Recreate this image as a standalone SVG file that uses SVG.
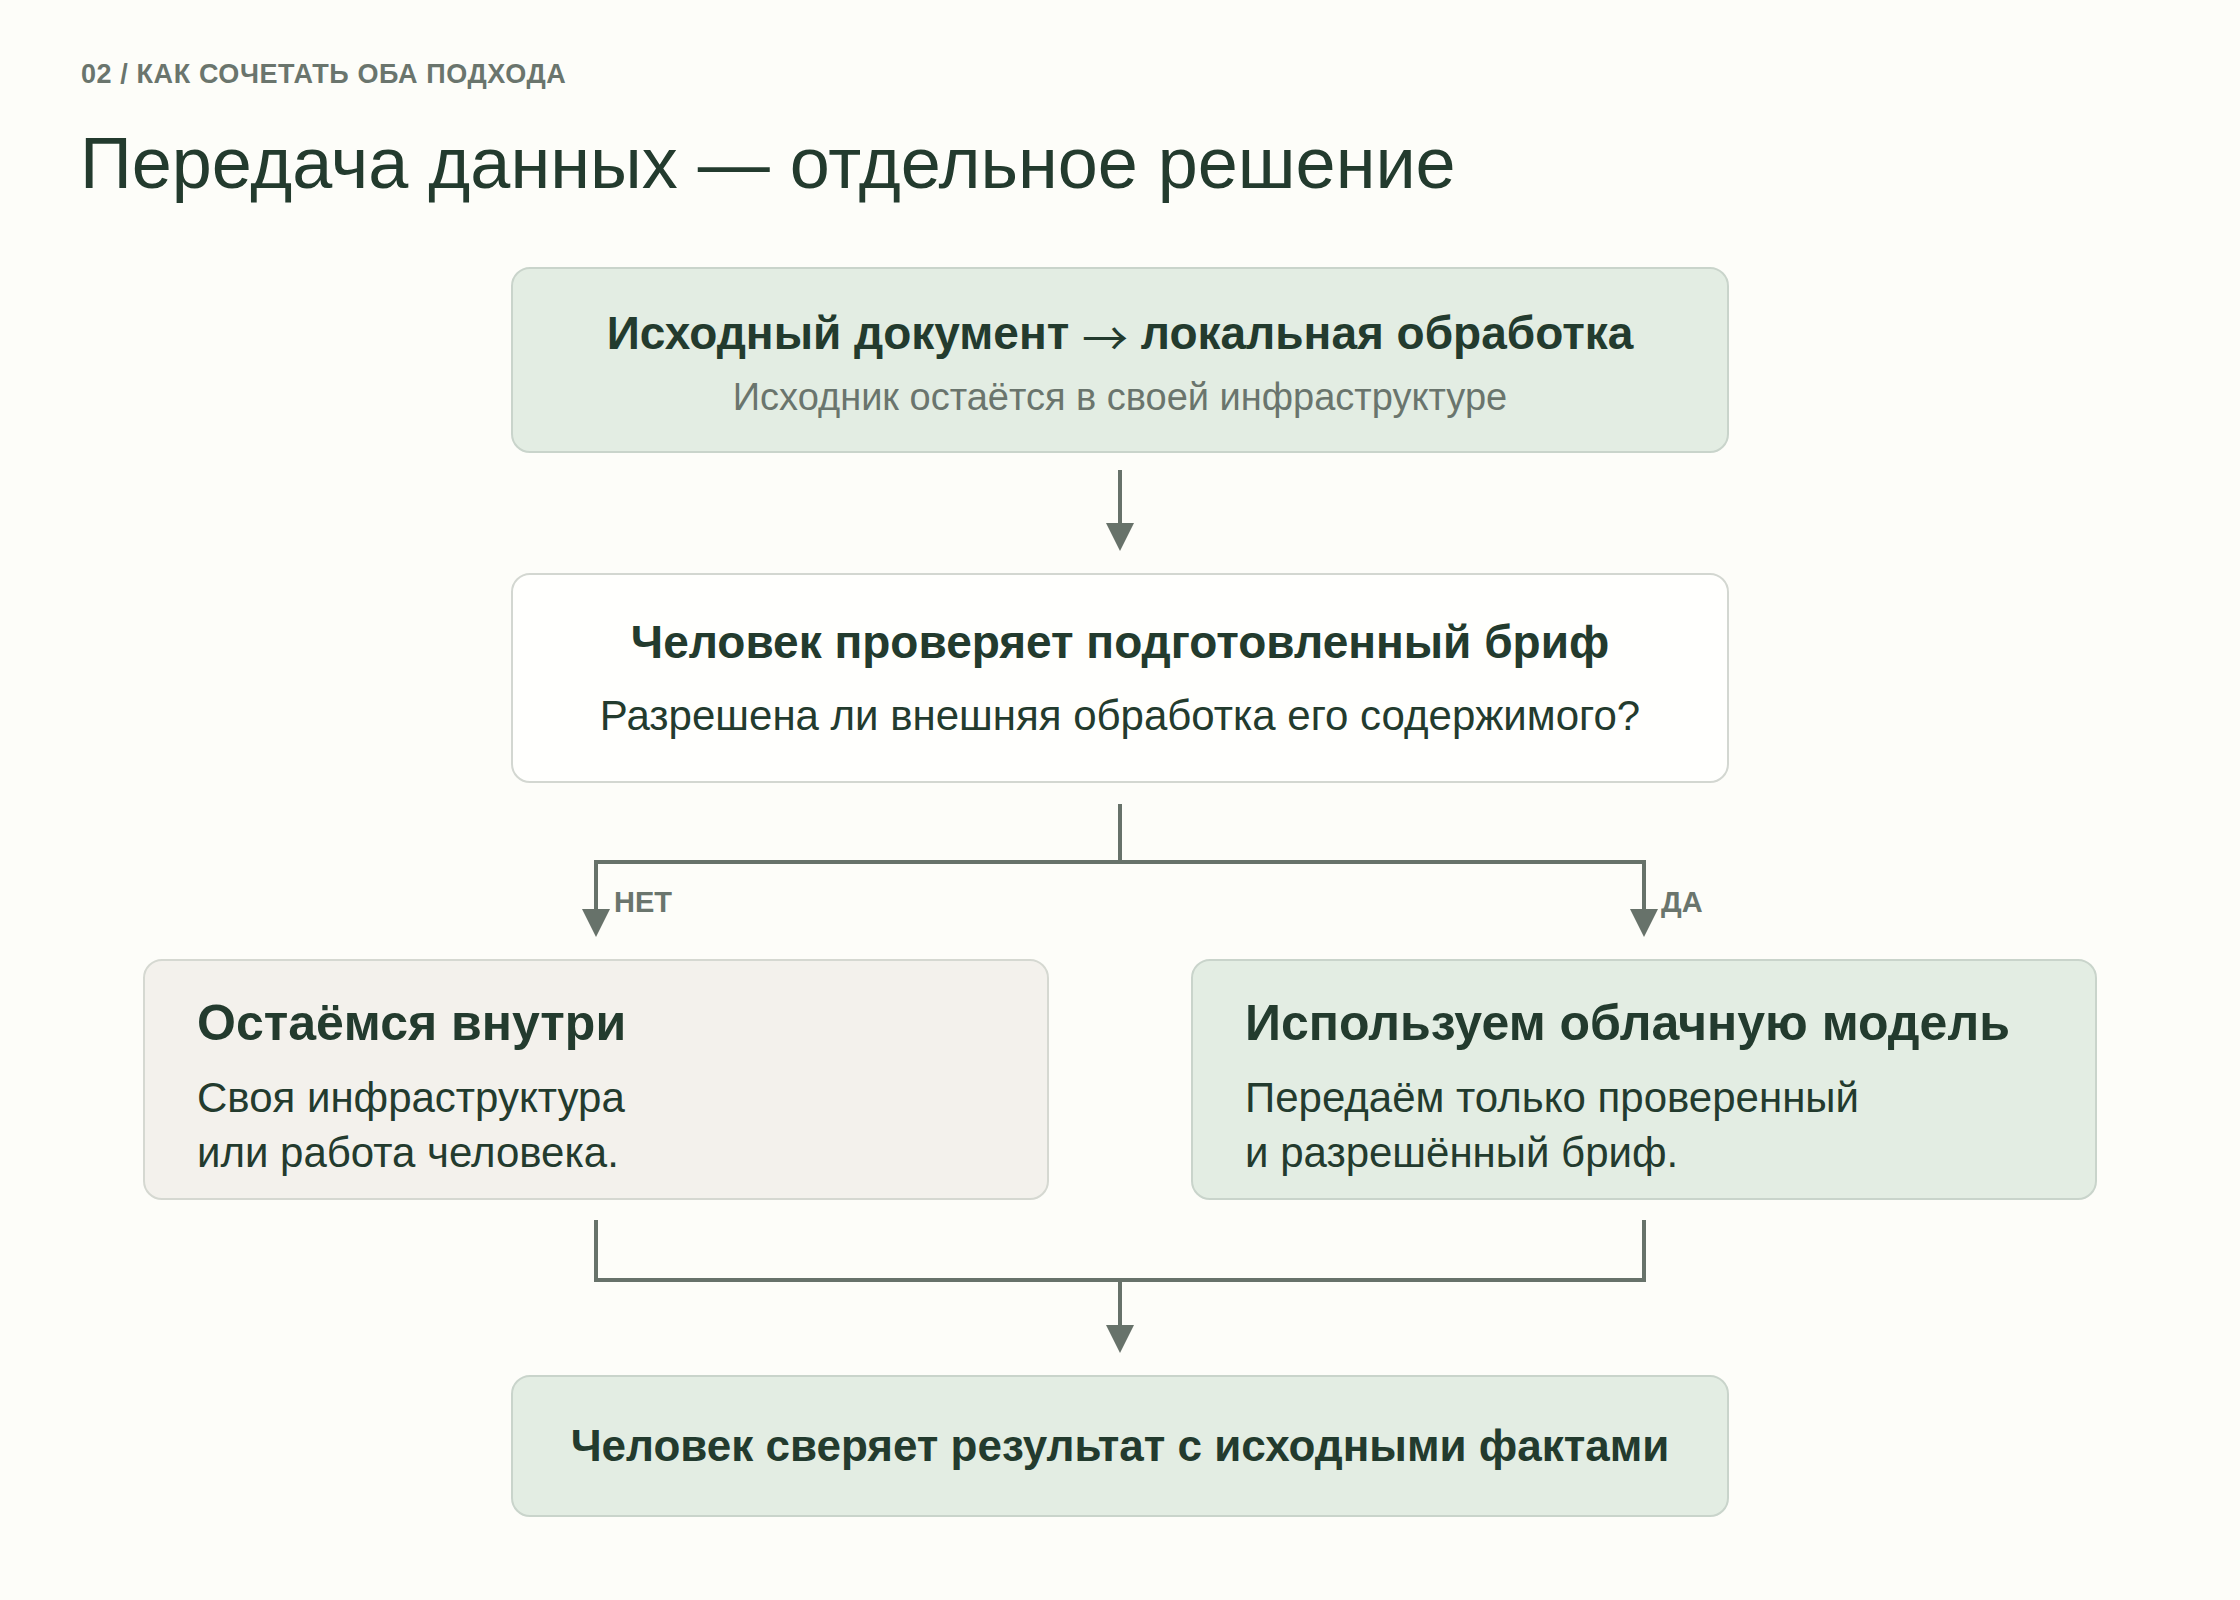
<svg xmlns="http://www.w3.org/2000/svg" width="2240" height="1600" viewBox="0 0 2240 1600">
  <defs>
    <style>
      text { font-family: "Liberation Sans", Arial, sans-serif; }
      .eyebrow { font-size: 27px; font-weight: 700; fill: #6a756d; letter-spacing: 0.6px; }
      .h1 { font-size: 72px; fill: #233b2e; }
      .t2 { font-size: 46px; font-weight: 700; fill: #233b2e; }
      .t3 { font-size: 44px; font-weight: 700; fill: #233b2e; }
      .tb { font-size: 50px; font-weight: 700; fill: #233b2e; }
      .sub { font-size: 38px; fill: #6a756d; }
      .body { font-size: 42px; fill: #233b2e; }
      .lbl { font-size: 29px; font-weight: 700; fill: #6a756d; }
      .arrowglyph { font-family: "Noto Sans CJK SC", "DejaVu Sans", sans-serif; font-weight: 400; }
      .green { fill: #e3ede3; stroke: #c9d4cb; stroke-width: 2; }
      .white { fill: #fffffd; stroke: #d3d7d1; stroke-width: 2; }
      .beige { fill: #f3f1ec; stroke: #d5d8d1; stroke-width: 2; }
      .conn { fill: none; stroke: #67726a; stroke-width: 4; }
    </style>
    <marker id="arr" markerUnits="userSpaceOnUse" markerWidth="28" markerHeight="28" refX="0" refY="14" orient="auto" viewBox="0 0 28 28">
      <path d="M0,0 L28,14 L0,28 Z" fill="#67726a"/>
    </marker>
  </defs>

  <rect x="0" y="0" width="2240" height="1600" fill="#fdfdf9"/>

  <g id="header">
    <text class="eyebrow" x="81" y="83">02 / КАК СОЧЕТАТЬ ОБА ПОДХОДА</text>
    <text class="h1" x="80" y="188">Передача данных — отдельное решение</text>
  </g>

  <g id="connectors">
    <path class="conn" d="M1120,470 V523" marker-end="url(#arr)"/>
    <path class="conn" d="M1120,804 V862"/>
    <path class="conn" d="M596,862 H1644"/>
    <path class="conn" d="M596,860 V909" marker-end="url(#arr)"/>
    <path class="conn" d="M1644,860 V909" marker-end="url(#arr)"/>
    <path class="conn" d="M596,1220 V1280 H1644 V1220"/>
    <path class="conn" d="M1120,1280 V1325" marker-end="url(#arr)"/>
    <text class="lbl" x="614" y="912">НЕТ</text>
    <text class="lbl" x="1661" y="912">ДА</text>
  </g>

  <g id="node-source">
    <rect class="green" x="512" y="268" width="1216" height="184" rx="18"/>
    <text class="t2" x="1120" y="349" text-anchor="middle">Исходный документ <tspan class="arrowglyph" baseline-shift="-6">→</tspan> локальная обработка</text>
    <text class="sub" x="1120" y="410" text-anchor="middle">Исходник остаётся в своей инфраструктуре</text>
  </g>

  <g id="node-check">
    <rect class="white" x="512" y="574" width="1216" height="208" rx="18"/>
    <text class="t2" x="1120" y="658" text-anchor="middle">Человек проверяет подготовленный бриф</text>
    <text class="body" x="1120" y="730" text-anchor="middle">Разрешена ли внешняя обработка его содержимого?</text>
  </g>

  <g id="node-inside">
    <rect class="beige" x="144" y="960" width="904" height="239" rx="18"/>
    <text class="tb" x="197" y="1040">Остаёмся внутри</text>
    <text class="body" x="197" y="1112">Своя инфраструктура</text>
    <text class="body" x="197" y="1167">или работа человека.</text>
  </g>

  <g id="node-cloud">
    <rect class="green" x="1192" y="960" width="904" height="239" rx="18"/>
    <text class="tb" x="1245" y="1040">Используем облачную модель</text>
    <text class="body" x="1245" y="1112">Передаём только проверенный</text>
    <text class="body" x="1245" y="1167">и разрешённый бриф.</text>
  </g>

  <g id="node-verify">
    <rect class="green" x="512" y="1376" width="1216" height="140" rx="18"/>
    <text class="t3" x="1120" y="1461" text-anchor="middle">Человек сверяет результат с исходными фактами</text>
  </g>
</svg>
